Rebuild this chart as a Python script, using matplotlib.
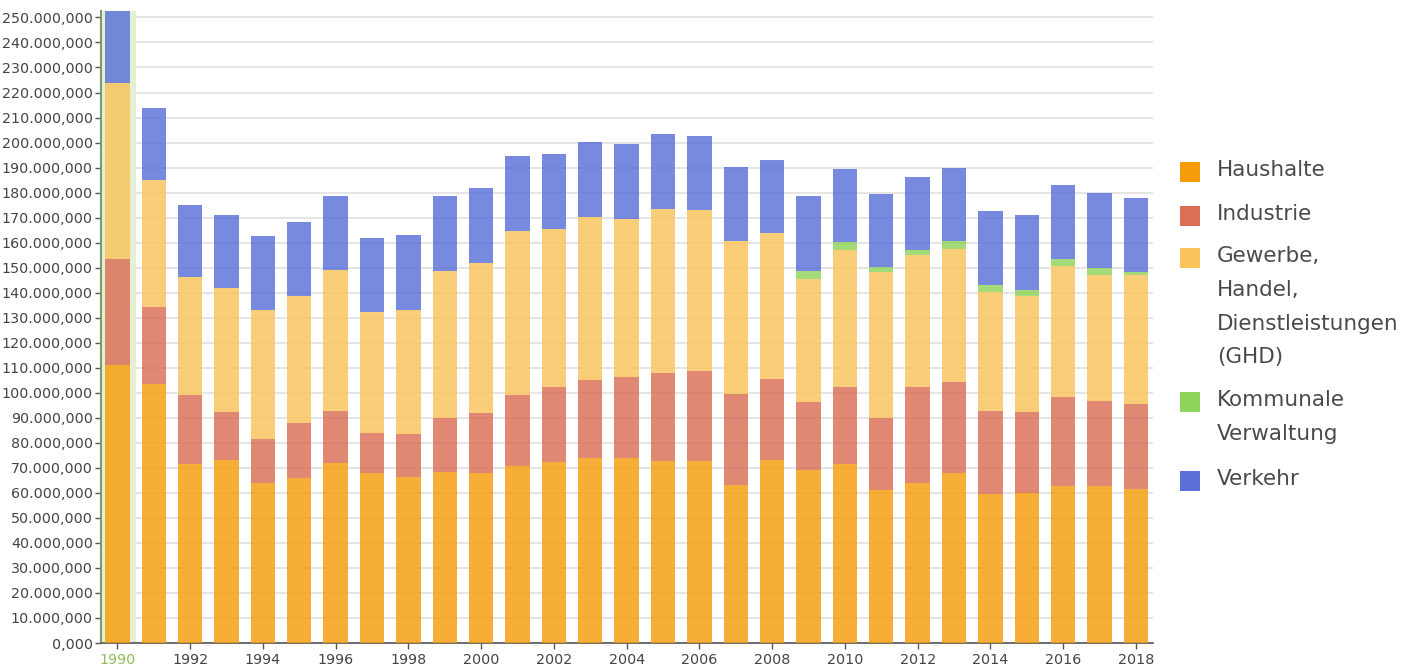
import matplotlib
matplotlib.use("Agg")
import matplotlib.pyplot as plt
from matplotlib.patches import Rectangle
from matplotlib.ticker import FuncFormatter, MultipleLocator
import numpy as np

# Data (Mio. units)
years = list(range(1990, 2019))
haushalte = [111.2, 103.5, 71.6, 73.3, 64.1, 65.9, 72.0, 68.1, 66.4, 68.5,
             68.1, 70.8, 72.5, 74.1, 73.9, 72.8, 72.9, 63.2, 73.2, 69.2,
             71.6, 61.2, 64.1, 68.1, 59.6, 59.9, 62.9, 62.9, 61.6]
industrie = [42.3, 30.8, 27.6, 19.1, 17.6, 22.0, 20.9, 16.0, 17.1, 21.4,
             24.0, 28.5, 30.0, 31.1, 32.4, 35.1, 35.9, 36.4, 32.3, 27.2,
             30.9, 28.9, 38.2, 36.4, 33.2, 32.4, 35.6, 33.9, 33.9]
ghd = [70.5, 50.9, 46.9, 49.6, 51.2, 50.9, 56.2, 48.2, 49.7, 58.9,
       59.8, 65.4, 63.0, 65.2, 63.2, 65.6, 64.3, 61.2, 58.4, 49.1,
       54.5, 58.0, 52.6, 53.1, 47.3, 46.2, 52.0, 50.4, 51.7]
kommunal = [0, 0, 0, 0, 0, 0, 0, 0, 0, 0,
            0, 0, 0, 0, 0, 0, 0, 0, 0, 3.3,
            3.3, 2.0, 2.3, 2.9, 2.8, 2.5, 3.0, 2.8, 0.9]
verkehr = [30.0, 28.7, 28.8, 29.2, 29.6, 29.6, 29.4, 29.6, 30.0, 29.7,
           29.8, 29.8, 29.8, 29.9, 30.1, 30.1, 29.7, 29.5, 29.3, 29.7,
           29.3, 29.5, 28.9, 29.4, 29.6, 29.9, 29.7, 29.9, 29.8]

series = [haushalte, industrie, ghd, kommunal, verkehr]
labels = ["Haushalte", "Industrie", "Gewerbe,\nHandel,\nDienstleistungen\n(GHD)",
          "Kommunale\nVerwaltung", "Verkehr"]
colors = ["#f59d0a", "#db6e55", "#f9c45c", "#8fd35a", "#5a70d8"]

fig = plt.figure(figsize=(14.21, 6.68), dpi=100)
ax = fig.add_axes([0.0711, 0.0374, 0.7403, 0.9466])

x = np.array(years)
bottom = np.zeros(len(years))
for vals, col in zip(series, colors):
    v = np.array(vals)
    ax.bar(x, v, width=0.67, bottom=bottom, color=col, alpha=0.82,
           linewidth=0, zorder=3)
    bottom += v

# highlighted 1990 column
ax.axvspan(1989.5, 1990.5, color="#e4efd4", zorder=1, lw=0)

ax.set_xlim(1989.55, 2018.47)
ax.set_ylim(0, 252.7)
ax.yaxis.set_major_locator(MultipleLocator(10))
ax.xaxis.set_major_locator(MultipleLocator(2))
ax.yaxis.set_major_formatter(FuncFormatter(
    lambda v, p: "0,000" if v == 0 else "%d.000,000" % int(round(v))))
ax.xaxis.set_major_formatter(FuncFormatter(lambda v, p: "%d" % int(round(v))))
ax.grid(axis="y", color="#e0e0e0", lw=1.2, zorder=0)
ax.set_axisbelow(True)

for s in ["top", "right"]:
    ax.spines[s].set_visible(False)
ax.spines["left"].set_color("#7f9c6c")
ax.spines["left"].set_linewidth(1.5)
ax.spines["bottom"].set_color("#555555")
ax.spines["bottom"].set_linewidth(1.2)
ax.tick_params(axis="y", labelsize=10.3, colors="#555555", length=4, width=1, pad=2)
ax.tick_params(axis="x", labelsize=10.3, colors="#555555", length=4, width=1, pad=3)
for lab in ax.get_yticklabels():
    lab.set_color("#444444")
for lab in ax.get_xticklabels():
    lab.set_color("#8dbd5c" if lab.get_text() == "1990" else "#444444")

# legend drawn by hand (square aligned with first line)
W, H = 1421.0, 668.0
ypos = [172, 216, 258, 402, 481]
for lab, col, yp in zip(labels, colors, ypos):
    fig.add_artist(Rectangle((1180 / W, 1 - (yp + 10) / H), 20 / W, 20 / H,
                             transform=fig.transFigure, color=col, lw=0))
    fig.text(1217 / W, 1 - (yp - 12) / H, lab, fontsize=15.5, color="#4a4a4a",
             va="top", ha="left", linespacing=1.86)

fig.savefig("out.png", dpi=100)
